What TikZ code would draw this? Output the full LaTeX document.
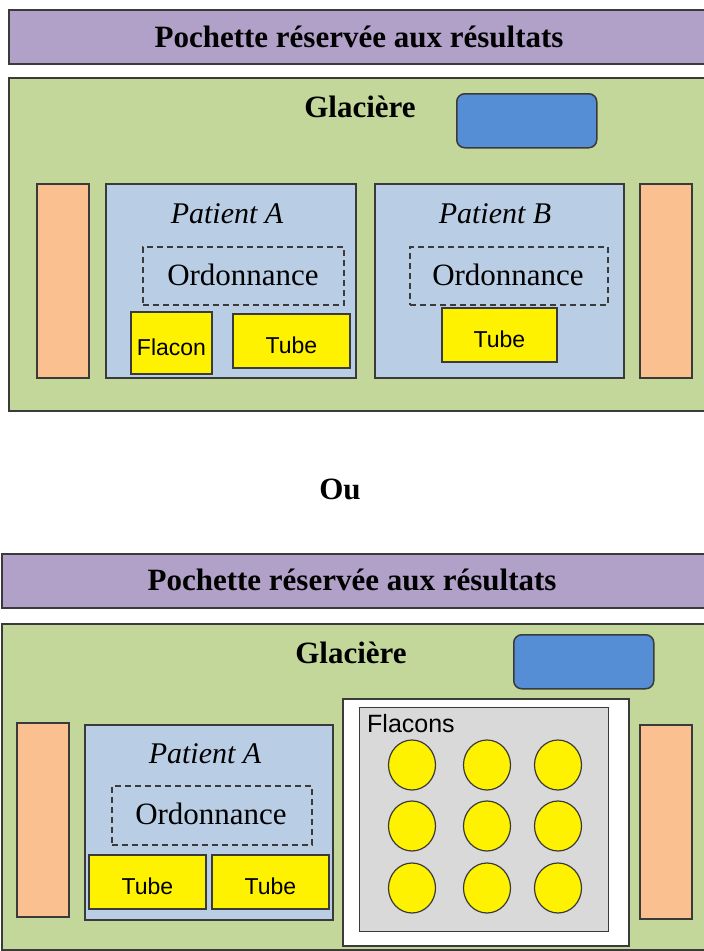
\documentclass[tikz,border=0pt]{standalone}
\usepackage{fontspec}
\setmainfont{Liberation Serif}
\setsansfont{Liberation Sans}
\definecolor{lilac}{HTML}{B1A0C7}
\definecolor{leaf}{HTML}{C4D79B}
\definecolor{ice}{HTML}{558ED5}
\definecolor{peach}{HTML}{FAC090}
\definecolor{pale}{HTML}{B9CDE5}
\definecolor{rackgrey}{HTML}{D9D9D9}
\definecolor{rim}{HTML}{3A3A3A}
\usetikzlibrary{shapes.geometric}

\begin{document}
\begin{tikzpicture}[x=1pt,y=-1pt,part/.style={draw=rim,line width=1.5pt,inner sep=0pt,anchor=north west},bar/.style={part,fill=lilac,minimum height=54pt},cooler/.style={part,fill=leaf},pack/.style={part,fill=ice,rounded corners=8pt,minimum width=140pt,minimum height=54pt},slab/.style={part,fill=peach,minimum width=52pt,minimum height=194pt},patient/.style={part,fill=pale,minimum height=194pt},ord/.style={draw=rim,line width=1.5pt,dash pattern=on 6pt off 4pt,inner sep=0pt,anchor=north west,minimum height=58pt},item/.style={draw=rim,line width=1.5pt,fill=yellow,inner sep=0pt,text height=25pt,text depth=0pt,font=\sffamily\fontsize{23}{26}\selectfont},vial/.style={ellipse,draw=rim,line width=1.2pt,fill=yellow,inner sep=0pt,minimum width=47pt,minimum height=50pt},head/.style={anchor=base,font=\bfseries\fontsize{31}{36}\selectfont},label/.style={anchor=base,font=\itshape\fontsize{30}{34}\selectfont},plain/.style={anchor=base,font=\fontsize{31}{36}\selectfont}]
\useasboundingbox (0,0) rectangle (704,951);
\clip (0,0) rectangle (704,951);
\node[bar,minimum width=702pt] (bar1) at (8,9) {};
\node[head] (title1) at (359,47) {Pochette réservée aux résultats};
\node[cooler,minimum width=702pt,minimum height=333pt] (cool1) at (8,77) {};
\node[head] (glac1) at (360,117) {Glacière};
\node[pack] (ice1) at (456,93) {};
\node[slab] (slabL1) at (36,183) {};
\node[slab] (slabR1) at (639,183) {};
\node[patient,minimum width=250pt] (patA1) at (105,183) {};
\node[label] (nameA1) at (227,223) {Patient A};
\node[ord,minimum width=201pt] (ordA1) at (142,246) {};
\node[plain] (txtA1) at (243,285) {Ordonnance};
\node[item,minimum width=81pt,minimum height=62pt] (flac1) at (171.5,343) {Flacon};
\node[item,minimum width=117pt,minimum height=54pt] (tubA1) at (291.5,341) {Tube};
\node[patient,minimum width=249pt] (patB1) at (374,183) {};
\node[label] (nameB1) at (495,223) {Patient B};
\node[ord,minimum width=198pt] (ordB1) at (409,246) {};
\node[plain] (txtB1) at (508,285) {Ordonnance};
\node[item,minimum width=115pt,minimum height=54pt] (tubB1) at (499.5,335) {Tube};
\node[head] (ou) at (340,499) {Ou};
\node[bar,minimum width=709pt] (bar2) at (1,553) {};
\node[head] (title2) at (352,590) {Pochette réservée aux résultats};
\node[cooler,minimum width=709pt,minimum height=326pt] (cool2) at (1,623) {};
\node[head] (glac2) at (351,663) {Glacière};
\node[pack] (ice2) at (513,634) {};
\node[slab] (slabL2) at (16,722) {};
\node[slab] (slabR2) at (639,724) {};
\node[patient,minimum width=248pt,minimum height=195pt] (patA2) at (84,724) {};
\node[label] (nameA2) at (205,763) {Patient A};
\node[ord,minimum width=200pt,minimum height=59pt] (ordA2) at (111,785) {};
\node[plain] (txtA2) at (211,824) {Ordonnance};
\node[item,minimum width=117pt,minimum height=54pt] (tub1) at (147.5,882) {Tube};
\node[item,minimum width=117pt,minimum height=54pt] (tub2) at (270.5,882) {Tube};
\node[part,fill=white,minimum width=286pt,minimum height=247pt] (tray) at (342,698) {};
\node[part,fill=rackgrey,line width=1.2pt,minimum width=249pt,minimum height=224pt] (rack) at (359,707) {};
\node[anchor=base west,inner sep=0pt,font=\sffamily\fontsize{25}{28}\selectfont] (rackname) at (367,732) {Flacons};
\node[vial] (v11) at (412,765) {};\node[vial] (v12) at (487,765) {};\node[vial] (v13) at (558,765) {};
\node[vial] (v21) at (412,826) {};\node[vial] (v22) at (487,826) {};\node[vial] (v23) at (558,826) {};
\node[vial] (v31) at (412,888) {};\node[vial] (v32) at (487,888) {};\node[vial] (v33) at (558,888) {};
\end{tikzpicture}
\end{document}
